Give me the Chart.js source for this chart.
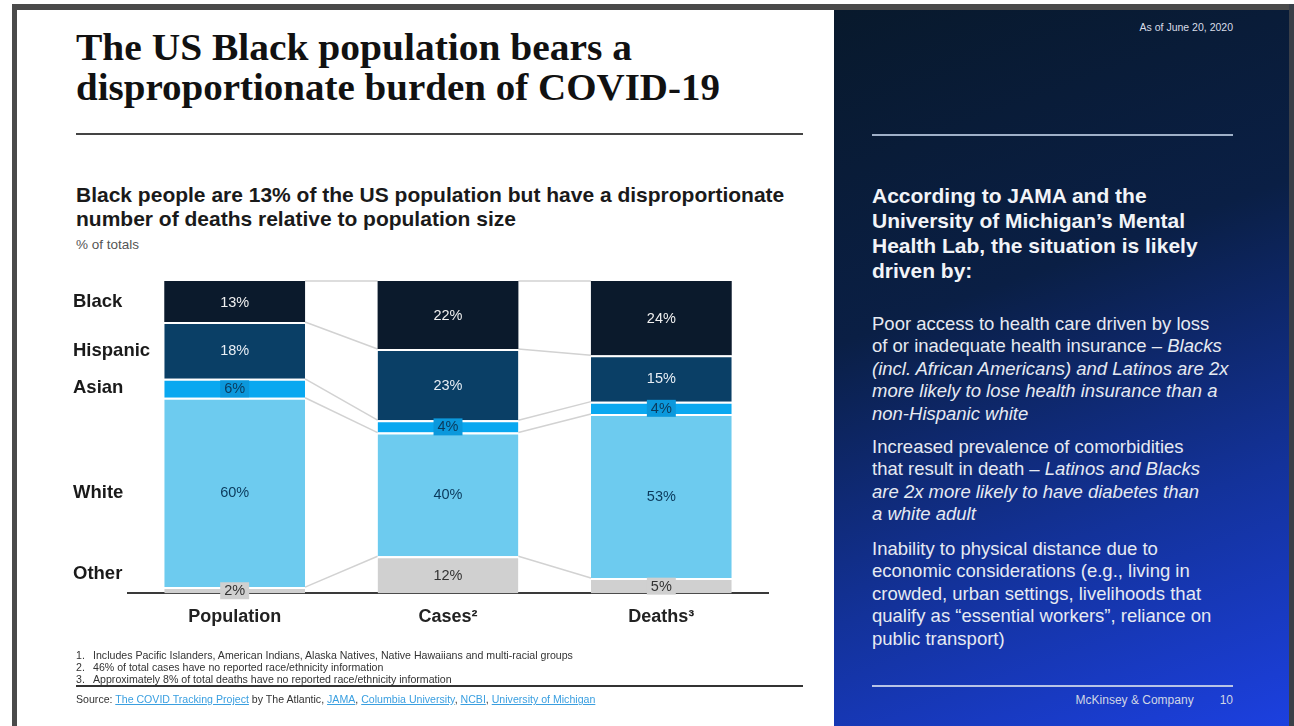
<!DOCTYPE html>
<html>
<head>
<meta charset="utf-8">
<script src="https://cdn.jsdelivr.net/npm/chart.js@4.4.1/dist/chart.umd.min.js"></script>
<style>
  html, body { margin: 0; padding: 0; }
  body { width: 1294px; height: 726px; position: relative; overflow: hidden; background: #fff;
         font-family: "Liberation Sans", Arial, sans-serif; }
  .abs { position: absolute; white-space: nowrap; }
  #frameTop { left: 12px; top: 4px; width: 1282px; height: 6px; background: #4a4a4a; }
  #frameLeft { left: 12px; top: 4px; width: 5px; height: 722px; background: #4a4a4a; }
  #frameRight { left: 1289px; top: 4px; width: 5px; height: 722px; background: #3a3f48; }
  #panel { left: 834px; top: 10px; width: 455px; height: 716px;
           background: linear-gradient(160deg, #08192c 0%, #0a1f45 38%, #13329a 70%, #1c40e0 100%); }
  #chartBox { left: 0; top: 0; width: 834px; height: 726px; }
  .title { left: 76px; font-family: "Liberation Serif", serif; font-weight: bold;
           font-size: 37px; line-height: 40px; color: #111; transform-origin: left top; }
  .rule { background: #444; height: 2px; }
  .sub { left: 76px; top: 183px; font-weight: bold; font-size: 21px; line-height: 24px; color: #1a1a1a; }
  .unit { left: 76px; top: 237px; font-size: 13.5px; line-height: 16px; color: #555; }
  .foot { left: 76px; top: 649px; font-size: 10.6px; line-height: 12px; color: #333; }
  .foot span.n { display: inline-block; width: 17px; }
  .src { left: 76px; top: 693px; font-size: 10.6px; line-height: 12px; color: #333; }
  .src a { color: #3a9fe0; text-decoration: underline; }
  .asof { left: 1080px; top: 21px; width: 153px; text-align: right; font-size: 10.5px; line-height: 12px; color: #d8dde8; }
  .head { left: 872px; top: 183px; font-weight: bold; font-size: 21px; line-height: 25px; color: #f2f4f8; }
  .para { left: 872px; font-size: 18.5px; line-height: 22.4px; color: #e6eaf2; }
  .para i { font-style: italic; }
  .brand { left: 1040px; top: 694px; width: 193px; text-align: right; font-size: 12px; line-height: 12px; color: #d0d6e6; }
  .brand span { margin-left: 26px; }
</style>
</head>
<body>
<div class="abs" id="frameTop"></div>
<div class="abs" id="frameLeft"></div>
<div class="abs" id="frameRight"></div>
<div class="abs" id="panel"></div>

<div class="abs title" id="t1" data-w="556" style="top:28px;">The US Black population bears a</div>
<div class="abs title" id="t2" data-w="644" style="top:68px;">disproportionate burden of COVID-19</div>
<div class="abs rule" style="left:76px; top:133px; width:727px;"></div>
<div class="abs sub">Black people are 13% of the US population but have a disproportionate<br>number of deaths relative to population size</div>
<div class="abs unit">% of totals</div>

<div class="abs" id="chartBox"><canvas id="chart"></canvas></div>

<div class="abs foot">
  <span class="n">1.</span>Includes Pacific Islanders, American Indians, Alaska Natives, Native Hawaiians and multi-racial groups<br>
  <span class="n">2.</span>46% of total cases have no reported race/ethnicity information<br>
  <span class="n">3.</span>Approximately 8% of total deaths have no reported race/ethnicity information
</div>
<div class="abs rule" style="left:76px; top:685px; width:727px; height:1.5px; background:#333;"></div>
<div class="abs src">Source: <a>The COVID Tracking Project</a> by The Atlantic, <a>JAMA</a>, <a>Columbia University</a>, <a>NCBI</a>, <a>University of Michigan</a></div>

<div class="abs asof">As of June 20, 2020</div>
<div class="abs rule" style="left:872px; top:134px; width:361px; background:#9fb0c8;"></div>
<div class="abs head">According to JAMA and the<br>University of Michigan’s Mental<br>Health Lab, the situation is likely<br>driven by:</div>
<div class="abs para" style="top:313px;">Poor access to health care driven by loss<br>of or inadequate health insurance – <i>Blacks</i><br><i>(incl. African Americans) and Latinos are 2x</i><br><i>more likely to lose health insurance than a</i><br><i>non-Hispanic white</i></div>
<div class="abs para" style="top:436px;">Increased prevalence of comorbidities<br>that result in death – <i>Latinos and Blacks</i><br><i>are 2x more likely to have diabetes than</i><br><i>a white adult</i></div>
<div class="abs para" style="top:538px;">Inability to physical distance due to<br>economic considerations (e.g., living in<br>crowded, urban settings, livelihoods that<br>qualify as “essential workers”, reliance on<br>public transport)</div>
<div class="abs rule" style="left:872px; top:685px; width:361px; background:#b8c4e6;"></div>
<div class="abs brand">McKinsey &amp; Company<span>10</span></div>

<script>
// Categories and shares (% of totals)
const categories = ['Population', 'Cases²', 'Deaths³'];
const groups = ['Black', 'Hispanic', 'Asian', 'White', 'Other'];
const black = [13, 22, 24];
const hispanic = [18, 23, 15];
const asian = [6, 4, 4];
const white = [60, 40, 53];
const other = [2, 12, 5];

const FONT = '"Liberation Sans", Arial, sans-serif';

// stretch the serif title lines to the slide's width
document.querySelectorAll('.title').forEach(el => {
  const w = el.getBoundingClientRect().width;
  el.style.transform = 'scaleX(' + (Number(el.dataset.w) / w) + ')';
});

// Segment styles, top of the stack first
const segColors = ['#0b1a2c', '#0a3f66', '#0aa8f0', '#6dcbef', '#d0d0d0'];
const textColors = ['#f0f0f0', '#e8eef5', '#0b3a5c', '#0b3a5c', '#333333'];
const boxColors = [null, null, '#0b98dc', null, '#d0d0d0'];

const series = [black, hispanic, asian, white, other];
const totals = categories.map((c, i) => series.reduce((s, arr) => s + arr[i], 0));

// Chart.js stacks from the first dataset upward, so bottom group goes first
const datasets = series.map((arr, k) => ({
  label: groups[k],
  raw: arr,
  data: arr.map((v, i) => v / totals[i] * 100),
  backgroundColor: segColors[k],
  borderColor: '#ffffff',
  borderWidth: { top: k === 0 ? 0 : 2, bottom: 0, left: 0, right: 0 },
  borderSkipped: false,
  textColor: textColors[k],
  boxColor: boxColors[k]
})).reverse();

// Light gray lines joining segment edges between neighbouring bars
const flowLines = {
  id: 'flowLines',
  beforeDatasetsDraw(chart) {
    const ctx = chart.ctx;
    ctx.save();
    ctx.strokeStyle = '#d2d2d2';
    ctx.lineWidth = 1.5;
    chart.data.datasets.forEach((ds, d) => {
      const els = chart.getDatasetMeta(d).data;
      for (let i = 0; i < els.length - 1; i++) {
        const a = els[i], b = els[i + 1];
        ctx.beginPath();
        ctx.moveTo(a.x + a.width / 2, a.y);
        ctx.lineTo(b.x - b.width / 2, b.y);
        ctx.stroke();
      }
    });
    ctx.restore();
  }
};

// Value labels inside segments + group names on the left
const segLabels = {
  id: 'segLabels',
  afterDraw(chart) {
    const ctx = chart.ctx;
    ctx.save();
    ctx.textAlign = 'center';
    ctx.textBaseline = 'middle';
    ctx.font = '14.5px ' + FONT;
    chart.data.datasets.forEach((ds, d) => {
      chart.getDatasetMeta(d).data.forEach((el, i) => {
        const cy = (el.y + el.base) / 2 + 1;
        const txt = ds.raw[i] + '%';
        if (ds.boxColor) {
          const w = ctx.measureText(txt).width + 8;
          ctx.fillStyle = ds.boxColor;
          ctx.fillRect(el.x - w / 2, cy - 9, w, 17);
        }
        ctx.fillStyle = ds.textColor;
        ctx.fillText(txt, el.x, cy);
      });
    });

    // group names, aligned with the population bar
    ctx.textAlign = 'left';
    ctx.font = 'bold 18.5px ' + FONT;
    ctx.fillStyle = '#1a1a1a';
    chart.data.datasets.forEach((ds, d) => {
      const el = chart.getDatasetMeta(d).data[0];
      let cy = (el.y + el.base) / 2;
      cy = Math.min(cy, chart.chartArea.bottom - 19);
      ctx.fillText(ds.label, 73, cy);
    });
    ctx.restore();
  }
};

new Chart(document.getElementById('chart').getContext('2d'), {
  type: 'bar',
  data: { labels: categories, datasets: datasets },
  options: {
    responsive: true,
    maintainAspectRatio: false,
    animation: false,
    layout: { padding: { left: 128, right: 66, top: 281, bottom: 85 } },
    datasets: { bar: { barPercentage: 1, categoryPercentage: 0.66 } },
    plugins: { legend: { display: false }, tooltip: { enabled: false } },
    scales: {
      x: {
        stacked: true,
        grid: { display: false, drawTicks: false },
        border: { display: true, color: '#3a3a3a', width: 2 },
        ticks: { color: '#222', padding: 13, font: { family: FONT, size: 18, weight: 'bold' } }
      },
      y: { stacked: true, display: false, min: 0, max: 100 }
    }
  },
  plugins: [flowLines, segLabels]
});
</script>
</body>
</html>
